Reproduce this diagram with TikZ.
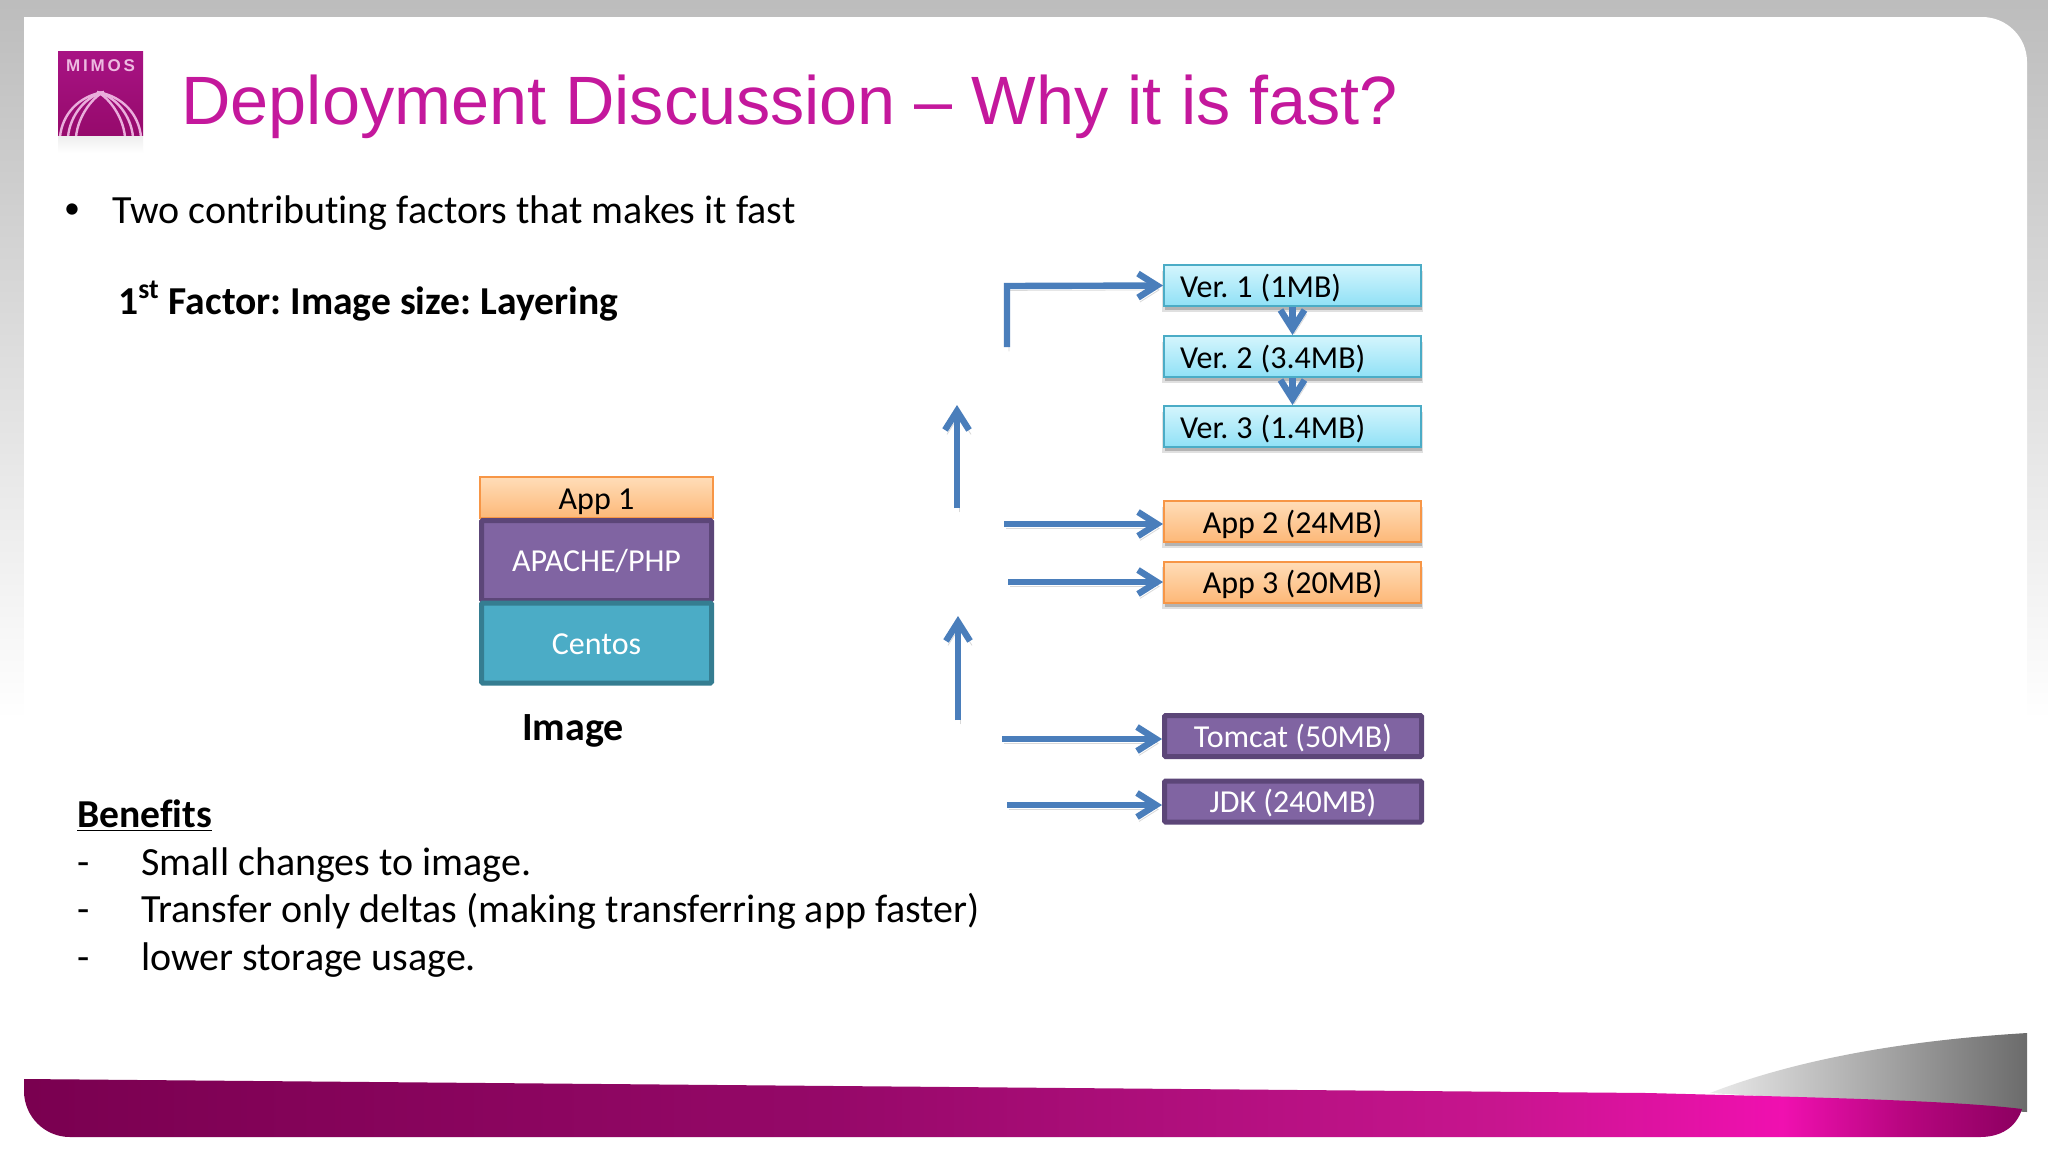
\documentclass[tikz,border=0pt]{standalone}
\usepackage{fontspec}
\setmainfont{Carlito}[Ligatures=NoCommon]
\newfontfamily\titlefont{Liberation Sans}
\frenchspacing
\usetikzlibrary{shapes,arrows,arrows.meta,positioning,shadows}

\definecolor{mimosmagenta}{HTML}{C4189C}
\definecolor{logotop}{HTML}{A81384}
\definecolor{logobottom}{HTML}{960A6C}
\definecolor{arrowblue}{HTML}{4A7EBB}
\definecolor{purplefill}{HTML}{8064A2}
\definecolor{purpleline}{HTML}{5C4678}
\definecolor{tealfill}{HTML}{4BACC6}
\definecolor{tealline}{HTML}{357D91}
\definecolor{orangeline}{HTML}{F79646}
\definecolor{verlight}{HTML}{D4F5FD}
\definecolor{verdark}{HTML}{90E1F6}
\definecolor{applight}{HTML}{FFDDB8}
\definecolor{appdark}{HTML}{FDB878}
\definecolor{banddark}{HTML}{7A0050}
\definecolor{bandmid}{HTML}{950868}
\definecolor{bandlight}{HTML}{C8158F}
\definecolor{bandhot}{HTML}{F010B0}
\definecolor{bandfall}{HTML}{B80680}
\definecolor{bandend}{HTML}{8C0060}

\pgfdeclarehorizontalshading{bandshade}{100bp}{color(0bp)=(banddark);color(25bp)=(banddark);color(45bp)=(bandmid);color(62bp)=(bandlight);color(69bp)=(bandhot);color(72bp)=(bandfall);color(75bp)=(bandend);color(100bp)=(bandend)}

\newcommand{\tightspaces}{\spaceskip=0.25em\relax}

\tikzset{
	bodytext/.style={anchor=base west,inner sep=0pt,font=\fontsize{20}{24}\selectfont},
	boldtext/.style={bodytext,font=\bfseries\fontsize{19.8}{24}\selectfont},
	boxtext/.style={font=\fontsize{16}{19}\selectfont,text height=14pt,text depth=2.5pt},
	darktext/.style={font=\fontsize{16}{19}\selectfont,text=white,text height=14pt,text depth=3pt},
	slideshadow/.style={general shadow={shadow yshift=-3pt,shadow scale=1.015,opacity=0.12,fill=black},general shadow={shadow xshift=0.3pt,shadow yshift=-2pt,opacity=0.2,fill=black}},
	verbox/.style={boxtext,execute at begin node=\tightspaces,draw=tealfill,line width=1pt,top color=verlight,bottom color=verdark,minimum width=128.5pt,minimum height=20.5pt,text width=112.5pt,inner xsep=8pt,inner ysep=0pt,align=left,slideshadow},
	appplain/.style={boxtext,draw=orangeline,line width=1pt,top color=applight,bottom color=appdark,minimum height=20.5pt,inner sep=0pt},
	appbox/.style={appplain,minimum width=128.5pt,slideshadow},
	purplebox/.style={darktext,draw=purpleline,line width=2.5pt,fill=purplefill,rounded corners=0.6pt,inner sep=0pt},
	tealbox/.style={darktext,draw=tealline,line width=2.5pt,fill=tealfill,rounded corners=0.6pt,inner sep=0pt},
	flowarrow/.style={draw=arrowblue,line width=3.2pt,-{Straight Barb[length=9.5pt,width=12pt,line width=3.2pt]},preaction={draw=black!15,transform canvas={shift={(1pt,-2.2pt)}}}},
}

\begin{document}
\begin{tikzpicture}[x=0.5pt,y=-0.5pt]
		%% the slide behind everything
		\useasboundingbox (0,0) rectangle (2048,1152);
		\fill[white] (0,0) rectangle (2048,1152);
		\shade[top color=black!26,bottom color=white] (0,0) rectangle (2048,720);
		\fill[white] (24,1152) -- (24,17) -- (1982,17) arc[start angle=270,end angle=360,radius=45] -- (2027,1152) -- cycle;
		% the band at the foot
		\shade[left color=black!8,right color=black!58] (1710,1093) .. controls (1800,1058) and (1910,1040) .. (2027,1033) -- (2027,1112) -- cycle;
		\shade[shading=bandshade] (24,1079) -- (1648,1093) .. controls (1800,1097) and (1950,1100) .. (2022,1109) .. controls (2016,1128) and (2000,1137) .. (1980,1137) -- (70,1137) arc[start angle=90,end angle=180,radius=46] -- cycle;
		%% the logo
		\shade[top color=black!7,bottom color=white] (58,135) rectangle (143,153);
		\shade[top color=logotop,bottom color=logobottom] (58,51) rectangle (143,135);
		\begin{scope}
			\clip (58,51) rectangle (143,135);
			\foreach \off in {0,8,16}{
				\draw[white!65!mimosmagenta,line width=1.2pt] (60+\off,137) .. controls (62+\off,115) and (78+\off,96) .. (104,92);
				\draw[white!65!mimosmagenta,line width=1.2pt] (141-\off,137) .. controls (139-\off,115) and (123-\off,96) .. (97,92);
			}
		\end{scope}
		\node[inner sep=0pt,text=white!70!mimosmagenta,font=\titlefont\bfseries\fontsize{8.5}{10}\selectfont] (logoname) at (100.5,66) {M\,I\,M\,O\,S};
		%% the heading and the text on the left
		\node[anchor=base west,inner sep=0pt,text=mimosmagenta,font=\titlefont\fontsize{34.2}{41}\selectfont] (heading) at (181,124) {Deployment Discussion – Why it is fast?};
		\node[bodytext,font=\fontsize{16}{19}\selectfont] (dot) at (63.7,218.6) {•};
		\node[bodytext] (factors) at (112,223) {Two contributing factors that makes it fast};
		\node[boldtext] (first) at (118,314) {1\textsuperscript{st} Factor: Image size: Layering};
		\node[boldtext] (benefits) at (77,827) {\underline{Benefits}};
		\foreach \ypos/\name/\line in {875/small/Small changes to image.,922/transfer/Transfer only deltas (making transferring app faster),970/lower/lower storage usage.}{
			\node[bodytext] (dash\name) at (77,\ypos) {-};
			\node[bodytext] (\name) at (141,\ypos) {\line};
		}
		%% the image stack
		\node[appplain,minimum width=116.5pt] (app1) at (596.5,497.5) {App 1};
		\node[purplebox,minimum width=115pt,minimum height=40pt] (apache) at (596.5,560.5) {APACHE/PHP};
		\node[tealbox,minimum width=115pt,minimum height=40pt] (centos) at (596.5,643) {Centos};
		\node[inner sep=0pt,font=\bfseries\fontsize{20}{24}\selectfont] (image) at (573,731) {Image};
		%% the layers on the right
		\node[verbox] (ver1) at (1292.5,285.5) {Ver. 1 (1MB)};
		\node[verbox] (ver2) at (1292.5,356.5) {Ver. 2 (3.4MB)};
		\node[verbox] (ver3) at (1292.5,426.5) {Ver. 3 (1.4MB)};
		\node[appbox] (app2) at (1292.5,521.5) {App 2 (24MB)};
		\node[appbox] (app3) at (1292.5,582) {App 3 (20MB)};
		\node[purplebox,minimum width=128.5pt,minimum height=20.5pt] (tomcat) at (1293,736) {Tomcat (50MB)};
		\node[purplebox,minimum width=128.5pt,minimum height=20.5pt] (jdk) at (1293,801.5) {JDK (240MB)};
		% free ends of the arrows
		\coordinate (startver) at (1007,347);
		\coordinate (bendver) at (1007,286);
		\coordinate (startapp2) at (1004,524);
		\coordinate (startapp3) at (1008,582);
		\coordinate (starttomcat) at (1002,739);
		\coordinate (startjdk) at (1007,805);
		\coordinate (upperfrom) at (957,508);
		\coordinate (upperto) at (957,405);
		\coordinate (lowerfrom) at (958,720);
		\coordinate (lowerto) at (958,616);
		%% the arrows
		\draw[flowarrow] (startver) -- (bendver) -- (ver1.west);
		\draw[flowarrow] (ver1.south) -- (ver2.north);
		\draw[flowarrow] (ver2.south) -- (ver3.north);
		\draw[flowarrow] (startapp2) -- (startapp2 -| app2.west);
		\draw[flowarrow] (startapp3) -- (app3.west);
		\draw[flowarrow] (starttomcat) -- (starttomcat -| tomcat.west);
		\draw[flowarrow] (startjdk) -- (startjdk -| jdk.west);
		\draw[flowarrow] (upperfrom) -- (upperto);
		\draw[flowarrow] (lowerfrom) -- (lowerto);
		\end{tikzpicture}
\end{document}
